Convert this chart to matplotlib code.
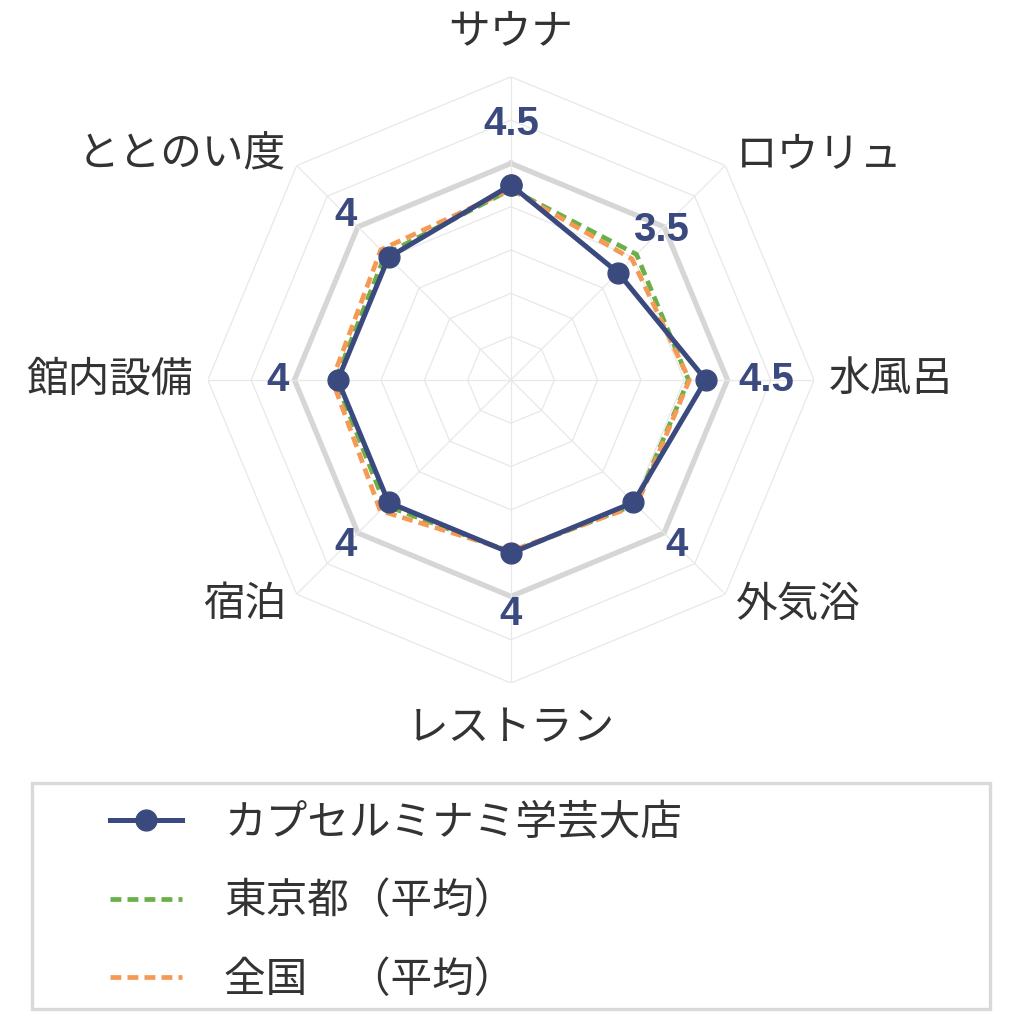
import matplotlib
matplotlib.use("Agg")
import matplotlib.pyplot as plt
from matplotlib.patches import Rectangle
import numpy as np

plt.rcParams['font.family'] = ['Noto Sans CJK JP', 'DejaVu Sans']

# データ
categories = ['サウナ', 'ロウリュ', '水風呂', '外気浴', 'レストラン', '宿泊', '館内設備', 'ととのい度']
store_name = 'カプセルミナミ学芸大店'
store_vals = [4.5, 3.5, 4.5, 4.0, 4.0, 4.0, 4.0, 4.0]
tokyo_name = '東京都（平均）'
tokyo_vals = [4.4, 4.1, 4.1, 4.07, 3.98, 4.1, 4.05, 4.1]
japan_name = '全国　（平均）'
japan_vals = [4.4, 3.95, 4.12, 4.1, 3.95, 4.27, 4.13, 4.25]
value_labels = ['4.5', '3.5', '4.5', '4', '4', '4', '4', '4']

navy = '#3b4a7e'
green = '#6aaf48'
orange = '#f59a55'

n = len(categories)
angles = np.arange(n) * 2 * np.pi / n
closed = np.append(angles, angles[0])


def close(v):
    return list(v) + [v[0]]


fig = plt.figure(figsize=(10.24, 10.24), dpi=100)
ax = fig.add_axes([0.203, 0.333, 0.592, 0.592], projection='polar')
ax.set_theta_zero_location('N')
ax.set_theta_direction(-1)
ax.set_ylim(0, 7)
ax.axis('off')

# 八角形グリッド
for r in range(1, 8):
    if r == 5:
        ax.plot(closed, [r] * (n + 1), color='#d6d6d6', lw=3.8, zorder=1)
    else:
        ax.plot(closed, [r] * (n + 1), color='#e8e8e8', lw=0.9, zorder=1)
for a in angles:
    ax.plot([a, a], [0, 7], color='#e8e8e8', lw=0.9, zorder=1)

# 系列
dash = (0, (2.3, 1.3))
ax.plot(closed, close(tokyo_vals), color=green, lw=3.4, ls=dash, zorder=3)
ax.plot(closed, close(japan_vals), color=orange, lw=3.4, ls=dash, zorder=4)
ax.plot(closed, close(store_vals), color=navy, lw=3.6, marker='o', markersize=15, zorder=5)

# 値ラベル
for a, v, t in zip(angles, store_vals, value_labels):
    ax.text(a, v + 1.4, t, ha='center', va='center', fontsize=29,
            fontweight='bold', color=navy, family='Liberation Sans', zorder=6)

# 項目ラベル
for a, c in zip(angles, categories):
    s = np.sin(a)
    if s > 0.1:
        ha, r = 'left', 7.35
    elif s < -0.1:
        ha, r = 'right', 7.35
    else:
        ha, r = 'center', 8.05
    ax.text(a, r, c, ha=ha, va='center', fontsize=30, color='#333333')

# 凡例
fig.patches.append(Rectangle((0.031, 0.015), 0.936, 0.220, transform=fig.transFigure,
                             fill=False, edgecolor='#d9d9d9', lw=2.4))
h1, = ax.plot([], [], color=navy, lw=3.6, marker='o', markersize=15)
h2, = ax.plot([], [], color=green, lw=3.4, ls=dash)
h3, = ax.plot([], [], color=orange, lw=3.4, ls=dash)
fig.legend([h1, h2, h3], [store_name, tokyo_name, japan_name],
           loc='upper left', bbox_to_anchor=(0.107, 0.216), frameon=False,
           fontsize=30, handlelength=1.75, handletextpad=1.0, labelspacing=0.9,
           borderpad=0, borderaxespad=0, labelcolor='#333333')

plt.savefig('out.png', dpi=100)
